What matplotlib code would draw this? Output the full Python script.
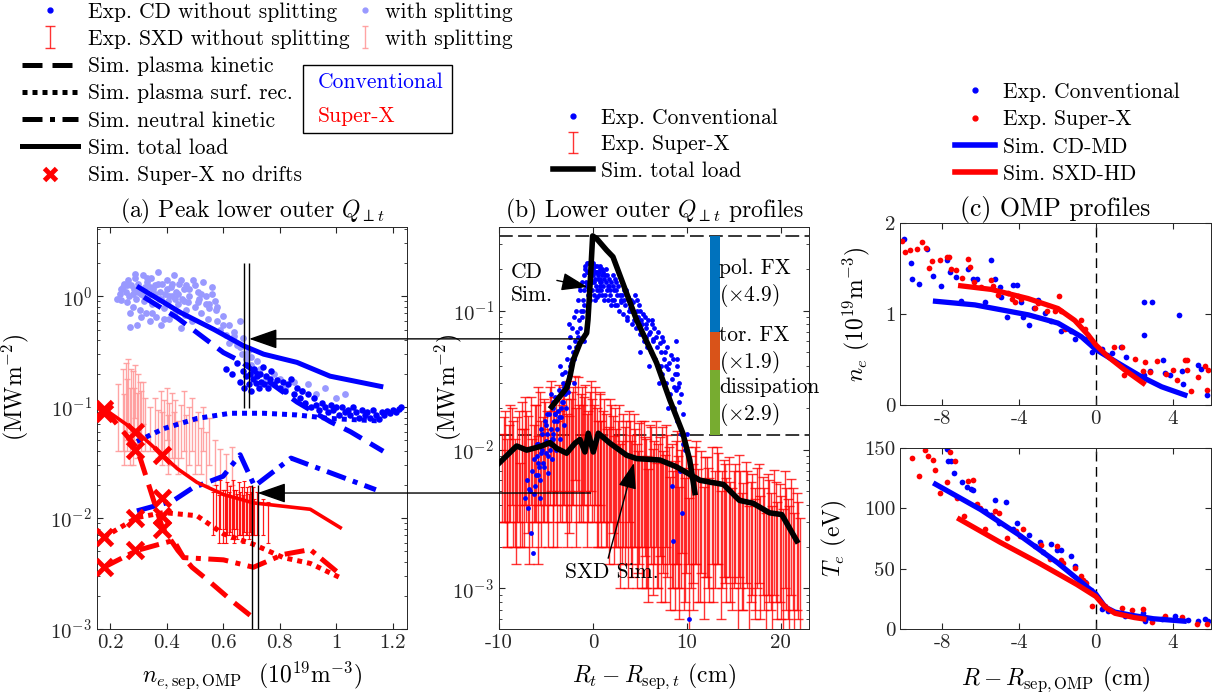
import matplotlib.pyplot as plt
from matplotlib.lines import Line2D
from matplotlib.patches import ConnectionPatch
import matplotlib.transforms as mtransforms

plt.rcParams['font.family'] = 'serif'
plt.rcParams['font.serif'] = ['cmr10']
plt.rcParams['mathtext.fontset'] = 'cm'
plt.rcParams['axes.unicode_minus'] = False
plt.rcParams['axes.formatter.use_mathtext'] = False
FS_TICK = 15
FS_LEG = 15.5
FS_LAB = 17
plt.rcParams['font.size'] = FS_LAB

# ---------------- (a) peak lower outer target load vs separatrix density
# experiment, conventional divertor (with / without splitting)
cd_split_n = [0.225, 0.235, 0.24, 0.245, 0.25, 0.255, 0.26, 0.262, 0.268, 0.27, 0.275, 0.28, 0.285, 0.29,
              0.292, 0.295, 0.30, 0.305, 0.31, 0.315, 0.32, 0.322, 0.328, 0.33, 0.335, 0.34, 0.345, 0.35,
              0.352, 0.36, 0.362, 0.37, 0.372, 0.378, 0.38, 0.385, 0.39, 0.395, 0.40, 0.405, 0.41, 0.415,
              0.42, 0.425, 0.43, 0.435, 0.44, 0.445, 0.45, 0.455, 0.46, 0.465, 0.47, 0.475, 0.48, 0.49,
              0.495, 0.50, 0.51, 0.515, 0.52, 0.53, 0.54, 0.545, 0.55, 0.56, 0.57, 0.575, 0.58, 0.59,
              0.60, 0.61, 0.62, 0.63, 0.64, 0.65, 0.66, 0.665, 0.67, 0.68, 0.69, 0.70, 0.71, 0.72, 0.75,
              0.78, 0.82, 0.85, 0.88, 0.90, 0.93, 0.96, 1.00, 1.03,
              0.24, 0.26, 0.28, 0.30, 0.32, 0.34, 0.36, 0.38, 0.40, 0.42,
              0.44, 0.46, 0.48, 0.50, 0.52, 0.54, 0.56, 0.27, 0.31, 0.35,
              0.39, 0.43, 0.47, 0.51, 0.55, 0.29, 0.33, 0.37, 0.41, 0.45,
              0.58, 0.60, 0.62, 0.64, 0.66, 0.68, 0.70, 0.73, 0.76, 0.80]
cd_split_q = [0.95, 1.05, 0.92, 1.2, 1.3, 1.1, 0.88, 1.4, 1.0, 0.53, 1.25, 0.8, 1.15, 1.45,
              0.95, 0.55, 1.3, 0.75, 1.05, 1.55, 0.9, 1.2, 0.7, 1.35, 1.0, 0.6, 1.45, 0.85,
              1.15, 1.25, 0.65, 1.65, 0.95, 1.1, 0.55, 1.3, 0.78, 1.05, 1.4, 0.9, 0.62, 1.2,
              1.0, 1.55, 0.72, 1.1, 0.85, 1.3, 0.52, 0.95, 1.15, 0.68, 1.25, 0.88, 1.0, 0.6,
              1.4, 0.8, 1.1, 0.95, 0.7, 1.35, 1.0, 0.62, 0.85, 1.2, 0.9, 0.75, 0.6, 0.5,
              0.66, 0.45, 0.55, 0.4, 0.48, 0.36, 0.6, 0.3, 0.42, 0.27, 0.33, 0.24, 0.2, 0.26, 0.18,
              0.2, 0.15, 0.17, 0.14, 0.16, 0.13, 0.15, 0.12, 0.13,
              1.15, 1.25, 1.05, 1.1, 1.0, 1.2, 1.05, 0.95, 1.15, 1.3,
              1.05, 0.9, 1.15, 1.25, 1.05, 0.85, 1.05, 0.7, 0.65, 0.7,
              0.62, 0.95, 0.75, 0.88, 0.78, 1.6, 1.45, 1.3, 1.0, 1.4,
              0.8, 0.55, 0.38, 0.44, 0.35, 0.3, 0.28, 0.22, 0.17, 0.18]
cd_n = [0.61, 0.63, 0.65, 0.66, 0.67, 0.675, 0.68, 0.685, 0.69, 0.695, 0.70, 0.705, 0.71, 0.715,
        0.72, 0.725, 0.73, 0.735, 0.74, 0.745, 0.75, 0.76, 0.765, 0.77, 0.78, 0.79, 0.80, 0.81,
        0.82, 0.83, 0.84, 0.85, 0.86, 0.87, 0.88, 0.89, 0.90, 0.91, 0.92, 0.93, 0.94, 0.95, 0.96,
        0.97, 0.98, 0.99, 1.00, 1.01, 1.02, 1.03, 1.04, 1.05, 1.06, 1.07, 1.08, 1.09, 1.10, 1.11,
        1.12, 1.13, 1.14, 1.15, 1.16, 1.17, 1.18, 1.19, 1.20, 1.21, 1.22, 1.23]
cd_q = [0.22, 0.20, 0.25, 0.17, 0.21, 0.15, 0.19, 0.24, 0.16, 0.20, 0.14, 0.18, 0.22, 0.165,
        0.19, 0.15, 0.20, 0.17, 0.23, 0.16, 0.19, 0.15, 0.18, 0.21, 0.16, 0.175, 0.15, 0.17,
        0.14, 0.16, 0.18, 0.13, 0.15, 0.12, 0.14, 0.11, 0.13, 0.10, 0.12, 0.105, 0.095, 0.11, 0.10,
        0.09, 0.105, 0.095, 0.10, 0.085, 0.10, 0.09, 0.095, 0.085, 0.10, 0.09, 0.08, 0.095, 0.085, 0.09,
        0.08, 0.095, 0.085, 0.078, 0.09, 0.085, 0.092, 0.088, 0.094, 0.09, 0.096, 0.10]

# experiment, Super-X divertor (with / without splitting), value and error
sxd_split_n = [0.23, 0.245, 0.25, 0.255, 0.26, 0.265, 0.27, 0.275, 0.28, 0.285, 0.29, 0.295, 0.30,
               0.305, 0.31, 0.315, 0.325, 0.34, 0.36, 0.37, 0.38, 0.385, 0.39, 0.40, 0.405, 0.41,
               0.42, 0.425, 0.43, 0.44, 0.45, 0.46, 0.47, 0.48, 0.49, 0.50, 0.51, 0.52, 0.53, 0.54,
               0.55, 0.57, 0.59, 0.61, 0.63]
sxd_split_q = [0.10, 0.13, 0.08, 0.15, 0.11, 0.17, 0.09, 0.14, 0.12, 0.10, 0.16, 0.085, 0.13,
               0.11, 0.09, 0.12, 0.08, 0.07, 0.08, 0.065, 0.09, 0.06, 0.075, 0.10, 0.055, 0.07,
               0.085, 0.06, 0.075, 0.05, 0.07, 0.09, 0.055, 0.065, 0.08, 0.05, 0.06, 0.045, 0.07, 0.04,
               0.055, 0.035, 0.03, 0.028, 0.032]
sxd_split_err = [0.06, 0.09, 0.05, 0.10, 0.07, 0.10, 0.06, 0.08, 0.09, 0.05, 0.08, 0.05, 0.07,
                 0.06, 0.05, 0.05, 0.04, 0.03, 0.04, 0.03, 0.05, 0.03, 0.04, 0.05, 0.03, 0.04,
                 0.05, 0.03, 0.04, 0.025, 0.035, 0.05, 0.03, 0.035, 0.04, 0.025, 0.03, 0.02, 0.03, 0.02,
                 0.025, 0.015, 0.012, 0.01, 0.012]
sxd_n = [0.565, 0.575, 0.585, 0.59, 0.60, 0.605, 0.61, 0.615, 0.62, 0.625, 0.63, 0.635, 0.64,
         0.645, 0.65, 0.655, 0.66, 0.665, 0.67, 0.675, 0.68, 0.685, 0.69, 0.695, 0.70, 0.705,
         0.71, 0.72, 0.74, 0.76]
sxd_q = [0.012, 0.014, 0.011, 0.015, 0.012, 0.013, 0.011, 0.014, 0.012, 0.0135, 0.011, 0.015, 0.012,
         0.013, 0.0115, 0.014, 0.012, 0.013, 0.011, 0.0145, 0.012, 0.013, 0.0115, 0.0135, 0.012, 0.013,
         0.011, 0.012, 0.011, 0.010]
sxd_err = [0.005, 0.006, 0.005, 0.007, 0.006, 0.005, 0.005, 0.007, 0.005, 0.006, 0.0045, 0.007, 0.006,
           0.005, 0.005, 0.007, 0.005, 0.006, 0.005, 0.007, 0.005, 0.006, 0.005, 0.006, 0.005, 0.006,
           0.004, 0.005, 0.004, 0.004]

# simulations: conventional divertor
cd_tot_n = [0.295, 0.45, 0.568, 0.672, 0.743, 0.861, 0.978, 1.166]
cd_tot_q = [1.23, 0.71, 0.50, 0.357, 0.30, 0.253, 0.19, 0.152]
cd_kin_n = [0.32, 0.437, 0.507, 0.601, 0.66, 0.861, 0.978, 1.05, 1.166]
cd_kin_q = [0.98, 0.64, 0.47, 0.31, 0.26, 0.111, 0.074, 0.06, 0.04]
cd_surf_n = [0.295, 0.39, 0.507, 0.625, 0.743, 0.86, 0.978, 1.155]
cd_surf_q = [0.049, 0.064, 0.079, 0.088, 0.088, 0.085, 0.079, 0.075]
cd_neut_n = [0.295, 0.421, 0.492, 0.60, 0.66, 0.711, 0.84, 1.14]
cd_neut_q = [0.0116, 0.0142, 0.0187, 0.0238, 0.0372, 0.0194, 0.0347, 0.018]
# simulations: Super-X divertor
sxd_tot_n = [0.178, 0.295, 0.39, 0.437, 0.507, 0.601, 0.707, 0.908, 1.014]
sxd_tot_q = [0.097, 0.060, 0.036, 0.028, 0.021, 0.0163, 0.0137, 0.012, 0.0082]
sxd_kin_n = [0.178, 0.295, 0.385, 0.44, 0.49, 0.55, 0.63, 0.70]
sxd_kin_q = [0.097, 0.043, 0.0082, 0.0051, 0.0036, 0.0027, 0.0018, 0.0013]
sxd_surf_n = [0.178, 0.295, 0.39, 0.507, 0.601, 0.707, 0.813, 0.908, 1.014]
sxd_surf_q = [0.0067, 0.0101, 0.0112, 0.0105, 0.0072, 0.0058, 0.0044, 0.0039, 0.0029]
sxd_neut_n = [0.178, 0.295, 0.425, 0.46, 0.601, 0.707, 0.813, 0.908, 1.014]
sxd_neut_q = [0.0036, 0.0051, 0.0063, 0.0044, 0.0042, 0.0036, 0.0047, 0.0052, 0.0031]
nodrift_n = [0.18, 0.18, 0.18, 0.18, 0.29, 0.29, 0.29, 0.29, 0.385, 0.385, 0.385, 0.385]
nodrift_q = [0.097, 0.088, 0.0067, 0.0036, 0.060, 0.041, 0.0101, 0.0051, 0.037, 0.0152, 0.0105, 0.0080]

# density window of the profiles shown in (b)
win_cd_n = [0.672, 0.692]
win_cd_q = [0.099, 1.99]
win_sxd_n = [0.702, 0.722]
win_sxd_q = [0.001, 0.02]

# ---------------- (b) target profiles
cdp_r = [-7.2, -7.0, -6.8, -6.6, -6.5, -6.4, -6.3, -6.2, -6.0, -5.9,
         -5.8, -5.7, -5.6, -5.5, -5.4, -5.3, -5.2, -5.1, -5.0, -4.9,
         -4.8, -4.7, -4.6, -4.5, -4.5, -4.4, -4.3, -4.2, -4.1, -4.0,
         -3.9, -3.8, -3.7, -3.6, -3.5, -3.5, -3.4, -3.3, -3.2, -3.1,
         -3.0, -2.9, -2.8, -2.7, -2.6, -2.5, -2.5, -2.4, -2.3, -2.2,
         -2.1, -2.0, -2.0, -1.9, -1.8, -1.7, -1.6, -1.5, -1.5, -1.4,
         -1.3, -1.2, -1.1, -1.0, -1.0, -0.9, -0.8, -0.7, -0.6, -0.5,
         -0.5, -0.4, -0.3, -0.2, -0.1, 0.0, 0.1, 0.1, 0.2, 0.3,
         0.3, 0.4, 0.5, 0.6, 0.7, 0.8, 0.8, 0.9, 1.0, 1.1,
         1.2, 1.2, 1.3, 1.4, 1.5, 1.5, 1.6, 1.7, 1.8, 1.9,
         2.0, 2.2, 2.4, 2.5, 2.6, 2.8, 3.0, 3.2, 3.4, 3.5,
         3.6, 3.8, 4.0, 4.2, 4.4, 4.5, 4.6, 4.8, 5.0, 5.0,
         5.2, 5.4, 5.5, 5.6, 5.8, 6.0, 6.0, 6.2, 6.4, 6.5,
         6.6, 6.8, 7.0, 7.0, 7.2, 7.4, 7.5, 7.6, 7.8, 8.0,
         8.0, 8.2, 8.4, 8.4, 8.5, 8.6, 8.8, 8.8, 9.0, 9.0,
         9.1, 9.2, 9.3, 9.4, 9.5, 9.6, 9.8, 10.0, 10.2, 8.5,
         -0.8, -0.6, -0.4, -0.2, 0.0, 0.2, 0.4, 0.6, 0.8, 1.0,
         -0.7, -0.3, 0.1, 0.5, 0.9, 1.3, 1.7, 2.1, 2.5, 2.9,
         -0.9, -0.5, 0.0, 0.4, 0.7, 1.1, 1.4, 1.8, 2.3, 2.7,
         3.1, 3.3, 3.7, 3.9, 4.1, 4.3, 4.7, 4.9, 5.1, 5.3,
         5.7, 5.9, 6.1, 6.3, 6.7, 6.9, 7.1, 7.3, 7.7, 7.9,
         8.1, 8.3, 8.7, 8.9, 9.2, 9.4, 2.1, 3.3, 4.7, 6.3,
         -1.2, -1.4, -1.6, -1.8, -2.2, -2.4, -2.6, -2.8, -3.2, -3.4,
         -3.6, -3.8, -4.2, -4.4, -4.6, -4.8, -5.2, -5.4, -5.6, -5.8,
         -6.1, -6.3, -6.7, -6.9, -5.0, -4.0, -3.0, -2.0, -1.1, -0.3,
         1.6, 2.2, 2.6, 3.0, 3.6, 4.4, 5.0, 5.6, 6.4, 7.2,
         7.8, 8.6, 9.0, 9.6, 0.2, 0.6, 1.0, -0.1, 0.4, 1.9,
         -5.5, -4.9, -4.3, -3.7, -3.1, -2.7, -6.0, -5.0, -4.0, -3.3]
cdp_q = [0.0045, 0.006, 0.0052, 0.0025, 0.007, 0.0018, 0.0085, 0.0055, 0.009, 0.0065,
         0.011, 0.0075, 0.0045, 0.0095, 0.013, 0.008, 0.011, 0.016, 0.0095, 0.013,
         0.0068, 0.018, 0.011, 0.014, 0.025, 0.0085, 0.02, 0.012, 0.016, 0.024,
         0.010, 0.014, 0.019, 0.027, 0.012, 0.04, 0.017, 0.022, 0.030, 0.015,
         0.036, 0.020, 0.045, 0.026, 0.055, 0.034, 0.08, 0.065, 0.042, 0.075,
         0.050, 0.090, 0.03, 0.060, 0.10, 0.070, 0.12, 0.085, 0.15, 0.14,
         0.10, 0.16, 0.12, 0.18, 0.06, 0.14, 0.20, 0.16, 0.22, 0.15,
         0.19, 0.19, 0.17, 0.20, 0.14, 0.18, 0.16, 0.13, 0.21, 0.15,
         0.19, 0.19, 0.17, 0.13, 0.20, 0.16, 0.21, 0.14, 0.18, 0.15,
         0.17, 0.12, 0.13, 0.16, 0.14, 0.18, 0.12, 0.15, 0.13, 0.16,
         0.12, 0.14, 0.11, 0.16, 0.13, 0.10, 0.12, 0.095, 0.11, 0.14,
         0.085, 0.10, 0.12, 0.08, 0.095, 0.13, 0.075, 0.09, 0.068, 0.05,
         0.08, 0.06, 0.09, 0.075, 0.055, 0.068, 0.04, 0.05, 0.06, 0.075,
         0.045, 0.055, 0.04, 0.03, 0.05, 0.035, 0.06, 0.045, 0.03, 0.038,
         0.02, 0.025, 0.032, 0.0055, 0.045, 0.02, 0.027, 0.06, 0.016, 0.035,
         0.028, 0.022, 0.007, 0.013, 0.0035, 0.018, 0.01, 0.013, 0.0006, 0.0022,
         0.21, 0.19, 0.22, 0.18, 0.20, 0.17, 0.21, 0.19, 0.17, 0.20,
         0.15, 0.16, 0.19, 0.18, 0.16, 0.18, 0.17, 0.15, 0.14, 0.13,
         0.11, 0.13, 0.22, 0.14, 0.15, 0.19, 0.2, 0.14, 0.17, 0.15,
         0.13, 0.12, 0.125, 0.105, 0.1, 0.115, 0.1, 0.11, 0.085, 0.095,
         0.08, 0.085, 0.07, 0.08, 0.065, 0.07, 0.058, 0.065, 0.05, 0.055,
         0.042, 0.048, 0.035, 0.04, 0.03, 0.025, 0.18, 0.14, 0.12, 0.085,
         0.09, 0.075, 0.065, 0.055, 0.045, 0.04, 0.033, 0.028, 0.022, 0.02,
         0.017, 0.016, 0.013, 0.012, 0.01, 0.009, 0.0075, 0.01, 0.006, 0.008,
         0.0065, 0.0048, 0.005, 0.0038, 0.0115, 0.018, 0.025, 0.045, 0.1, 0.12,
         0.15, 0.12, 0.11, 0.115, 0.09, 0.085, 0.1, 0.065, 0.062, 0.04,
         0.04, 0.028, 0.045, 0.011, 0.12, 0.14, 0.13, 0.16, 0.125, 0.11,
         0.014, 0.018, 0.022, 0.024, 0.028, 0.03, 0.011, 0.015, 0.018, 0.035]
sxdp_r = [-9.7, -9.4, -9.1, -8.9, -8.6, -8.3, -8.1, -7.8, -7.6, -7.3, -7.1, -6.8, -6.6, -6.3, -6.1,
          -5.8, -5.6, -5.3, -5.1, -4.8, -4.6, -4.3, -4.1, -3.8, -3.6, -3.3, -3.1, -2.8, -2.6, -2.3,
          -2.1, -1.8, -1.6, -1.3, -1.1, -0.8, -0.6, -0.3, -0.1, 0.2, 0.4, 0.7, 0.9, 1.2, 1.4, 1.7,
          1.9, 2.2, 2.4, 2.7, 2.9, 3.2, 3.4, 3.7, 3.9, 4.2, 4.4, 4.7, 4.9, 5.2, 5.4, 5.7, 5.9, 6.2,
          6.4, 6.7, 6.9, 7.2, 7.4, 7.7, 7.9, 8.2, 8.4, 8.7, 8.9, 9.2, 9.4, 9.7, 9.9, 10.2, 10.4,
          10.7, 10.9, 11.2, 11.5, 11.8, 12.1, 12.4, 12.7, 13.0, 13.3, 13.6, 13.9, 14.2, 14.5, 14.8,
          15.1, 15.4, 15.7, 16.0, 16.3, 16.6, 16.9, 17.2, 17.5, 17.8, 18.1, 18.4, 18.7, 19.0, 19.3,
          19.6, 19.9, 20.2, 20.5, 20.8, 21.1, 21.4, 21.7, 22.0,
          -9.5, -9.2, -8.8, -8.5, -8.2, -7.9, -7.5, -7.2, -6.9, -6.5,
          -6.2, -5.9, -5.5, -5.2, -4.9, -4.5, -4.2, -3.9, -3.5, -3.2,
          -2.9, -2.5, -2.2, -1.9, -1.5, -1.2, -0.9, -0.5, -0.2, 0.1,
          0.5, 0.8, 1.1, 1.5, 1.8, 2.1, 2.5, 2.8, 3.1, 3.5,
          3.8, 4.1, 4.5, 4.8, 5.1, 5.5, 5.8, 6.1, 6.5, 6.8,
          7.1, 7.5, 7.8, 8.1, 8.5, 8.8, 9.1, 9.5, 9.8, 10.1,
          10.6, 11.0, 11.4, 11.9, 12.3, 12.8, 13.2, 13.7, 14.1, 14.6,
          15.0, 15.5, 15.9, 16.4, 16.8, 17.3, 17.7, 18.2, 18.6, 19.1,
          19.5, 20.0, 20.4, 20.9, 21.3, 21.8]
sxdp_q = [0.008, 0.011, 0.006, 0.009, 0.012, 0.007, 0.010, 0.005, 0.013, 0.008, 0.011, 0.006, 0.014,
          0.009, 0.012, 0.007, 0.015, 0.010, 0.013, 0.008, 0.016, 0.011, 0.014, 0.009, 0.017, 0.012,
          0.015, 0.010, 0.018, 0.013, 0.016, 0.011, 0.019, 0.014, 0.012, 0.017, 0.010, 0.015, 0.013,
          0.016, 0.011, 0.014, 0.009, 0.013, 0.010, 0.008, 0.012, 0.007, 0.011, 0.009, 0.006, 0.010,
          0.008, 0.005, 0.009, 0.007, 0.010, 0.006, 0.0085, 0.005, 0.009, 0.0065, 0.004, 0.008,
          0.0055, 0.009, 0.006, 0.0045, 0.008, 0.005, 0.007, 0.0035, 0.006, 0.0045, 0.0075, 0.003,
          0.0055, 0.004, 0.0065, 0.0025, 0.005, 0.0035, 0.006, 0.004, 0.0055, 0.003, 0.005, 0.0035,
          0.006, 0.004, 0.0055, 0.0028, 0.0048, 0.0035, 0.005, 0.003, 0.0045, 0.0025, 0.004, 0.0032,
          0.0046, 0.0022, 0.0038, 0.003, 0.0042, 0.0026, 0.0036, 0.002, 0.0034, 0.0028, 0.004,
          0.0024, 0.0032, 0.0021, 0.003, 0.0025, 0.0035, 0.002, 0.0028, 0.0018,
          0.010, 0.007, 0.012, 0.009, 0.006, 0.011, 0.008, 0.014, 0.010, 0.007,
          0.012, 0.016, 0.009, 0.013, 0.011, 0.018, 0.008, 0.014, 0.011, 0.016,
          0.013, 0.010, 0.015, 0.020, 0.012, 0.016, 0.014, 0.011, 0.018, 0.012,
          0.009, 0.015, 0.011, 0.008, 0.013, 0.010, 0.008, 0.012, 0.0065, 0.009,
          0.011, 0.0065, 0.008, 0.0055, 0.009, 0.007, 0.005, 0.0085, 0.0065, 0.0045,
          0.007, 0.0055, 0.0085, 0.006, 0.004, 0.0065, 0.005, 0.0075, 0.0035, 0.006,
          0.0045, 0.0065, 0.0035, 0.005, 0.0042, 0.0032, 0.006, 0.004, 0.0045, 0.0033,
          0.004, 0.0052, 0.0028, 0.004, 0.0033, 0.0025, 0.0045, 0.003, 0.0038, 0.0022,
          0.0033, 0.0026, 0.004, 0.0022, 0.003, 0.0024]
sxdp_err = [0.005, 0.008, 0.004, 0.006, 0.008, 0.005, 0.007, 0.003, 0.009, 0.006, 0.008, 0.0045,
            0.010, 0.006, 0.009, 0.0055, 0.011, 0.007, 0.009, 0.006, 0.012, 0.008, 0.010, 0.007,
            0.012, 0.009, 0.011, 0.008, 0.013, 0.010, 0.012, 0.009, 0.014, 0.011, 0.009, 0.012,
            0.008, 0.011, 0.010, 0.012, 0.009, 0.011, 0.007, 0.010, 0.008, 0.0065, 0.009, 0.0055,
            0.009, 0.007, 0.005, 0.008, 0.0065, 0.004, 0.007, 0.0058, 0.008, 0.005, 0.007, 0.004,
            0.007, 0.0055, 0.0032, 0.0065, 0.0046, 0.007, 0.005, 0.0037, 0.0065, 0.0042, 0.0058,
            0.0028, 0.005, 0.0038, 0.006, 0.0024, 0.0045, 0.0033, 0.0052, 0.002, 0.004, 0.0028,
            0.0045, 0.0032, 0.0042, 0.0024, 0.0038, 0.0027, 0.0045, 0.003, 0.004, 0.0022, 0.0036,
            0.0027, 0.0038, 0.0023, 0.0034, 0.002, 0.003, 0.0025, 0.0035, 0.0017, 0.0029, 0.0023,
            0.0032, 0.002, 0.0027, 0.0015, 0.0026, 0.0021, 0.0031, 0.0018, 0.0024, 0.0016, 0.0023,
            0.0019, 0.0026, 0.0015, 0.0021, 0.0014,
            0.007, 0.005, 0.009, 0.007, 0.0045, 0.008, 0.006, 0.010, 0.0075, 0.005,
            0.009, 0.012, 0.007, 0.010, 0.008, 0.013, 0.006, 0.010, 0.008, 0.012,
            0.010, 0.0075, 0.011, 0.014, 0.009, 0.012, 0.010, 0.008, 0.013, 0.009,
            0.007, 0.011, 0.008, 0.006, 0.010, 0.0075, 0.006, 0.009, 0.005, 0.007,
            0.008, 0.005, 0.006, 0.0042, 0.007, 0.0053, 0.004, 0.0065, 0.005, 0.0035,
            0.0053, 0.0042, 0.0065, 0.0045, 0.003, 0.005, 0.004, 0.0057, 0.0027, 0.0045,
            0.0034, 0.005, 0.0027, 0.0038, 0.0032, 0.0024, 0.0045, 0.003, 0.0034, 0.0025,
            0.003, 0.004, 0.0021, 0.003, 0.0025, 0.0019, 0.0034, 0.0023, 0.0029, 0.0017,
            0.0025, 0.002, 0.003, 0.0017, 0.0023, 0.0018]
cd_sim_r = [-4.39, -2.80, -2.45, -2.10, -1.38, -0.67, -0.53, -0.32, -0.03, 0.39, 1.46, 2.13, 4.65,
            6.78, 8.19, 9.57, 10.3, 10.85]
cd_sim_q = [0.0203, 0.0277, 0.0334, 0.044, 0.0584, 0.069, 0.0855, 0.148, 0.345, 0.33, 0.272, 0.244,
            0.0855, 0.042, 0.0227, 0.0131, 0.0084, 0.0049]
sxd_sim_r = [-9.97, -8.12, -7.05, -5.64, -4.57, -3.86, -2.80, -1.91, -1.38, -0.85, -0.5, 0.04, 0.57,
             1.81, 3.58, 4.65, 7.13, 8.9, 11.4, 13.9, 15.6, 17.05, 18.8, 20.1, 21.7]
sxd_sim_q = [0.0080, 0.0106, 0.0099, 0.0105, 0.0112, 0.0102, 0.0094, 0.0111, 0.0118, 0.0096, 0.0131,
             0.0096, 0.0131, 0.0111, 0.0091, 0.0086, 0.0084, 0.0075, 0.0060, 0.0056, 0.0043, 0.0041,
             0.0035, 0.0034, 0.0022]
# peak-load reduction split into its contributions
peak_sxd = 0.0128
gain_labels = ['dissipation', 'tor. FX', 'pol. FX']
gain_factors = [2.9, 1.9, 4.9]
gain_colors = ['#77AC30', '#D95319', '#0072BD']

# ---------------- (c) outer midplane profiles
ne_cd_r = [-9.97, -9.65, -9.57, -9.23, -8.78, -8.49, -8.09, -7.77, -7.62, -7.27, -7.0, -6.66, -6.4,
           -6.17, -5.79, -5.44, -5.27, -5.0, -4.96, -4.61, -4.31, -4.09, -3.88, -3.79, -3.48, -3.22,
           -3.01, -2.66, -2.35, -1.79, -1.27, -1.1, -0.57, -0.19, 0.3, 0.56, 0.85, 1.3, 1.55, 2.52,
           2.52, 2.94, 2.49, 2.82, 3.51, 3.6, 3.86, 4.33, 4.5, 4.56, 5.30, 5.48, 5.77]
ne_cd = [1.82, 1.56, 1.38, 1.33, 1.71, 1.42, 1.31, 1.59, 1.46, 1.41, 1.14, 1.49, 1.38, 1.38, 1.13,
         1.59, 1.38, 1.30, 1.19, 0.97, 1.32, 1.32, 1.13, 0.97, 0.88, 1.07, 1.15, 1.01, 0.92, 0.81,
         0.81, 0.73, 0.73, 0.58, 0.61, 0.55, 0.57, 0.64, 0.53, 1.13, 0.77, 1.13, 0.33, 0.37, 0.49,
         0.35, 0.33, 0.99, 0.37, 0.23, 0.44, 0.40, 0.11]
ne_sxd_r = [-10.09, -9.93, -9.7, -9.3, -9.03, -8.83, -8.71, -8.54, -8.12, -7.77, -7.67, -7.53, -7.3,
            -6.96, -6.66, -6.57, -6.35, -5.97, -5.48, -5.36, -5.1, -4.57, -4.37, -4.23, -4.05, -3.88,
            -3.15, -3.01, -2.52, -2.14, -1.93, -1.79, -1.58, -0.78, -0.57, 0.96, 1.34, 1.48, 2.03,
            2.47, 2.56, 2.82, 3.17, 3.63, 4.03, 4.21, 4.64, 4.73, 4.73, 4.96, 5.34, 5.69, 5.77, 5.83]
ne_sxd = [1.80, 1.68, 1.70, 1.71, 1.79, 1.72, 1.50, 1.58, 1.59, 1.63, 1.63, 1.49, 1.48, 1.40, 1.60,
          1.52, 1.35, 1.30, 1.37, 1.31, 1.21, 1.23, 1.17, 1.13, 1.20, 1.16, 1.07, 1.12, 1.03, 1.03,
          1.20, 1.03, 0.83, 0.93, 0.84, 0.64, 0.64, 0.33, 0.51, 0.37, 0.47, 0.36, 0.48, 0.34, 0.39,
          0.28, 0.49, 0.49, 0.39, 0.15, 0.31, 0.43, 0.17, 0.39]
te_cd_r = [-7.77, -7.7, -7.55, -7.37, -6.97, -6.7, -6.52, -6.4, -5.79, -5.27, -5.48, -5.04, -4.66,
           -4.31, -4.09, -3.5, -3.18, -2.92, -2.75, -2.35, -2.0, -1.79, -1.27, -1.1, -0.75, -0.57,
           -0.23, 0.3, 0.64, 1.51, 2.47, 2.56, 3.43, 4.12, 4.82, 5.69, 5.86, 5.34]
te_cd = [149, 139, 139, 129, 121.5, 118, 116, 115.5, 98, 106.6, 94.8, 87.8, 105, 82.9, 87.8, 78.2,
         68.5, 71.8, 63.5, 70.4, 65.7, 65.2, 60.2, 52.5, 41.4, 38.7, 32, 16.6, 14.6, 11, 13.3, 6.4,
         8.3, 10.5, 7.7, 8.3, 6.4, 6.9]
te_sxd_r = [-9.6, -9.23, -8.92, -8.75, -8.49, -8.4, -8.12, -7.76, -7.57, -7.32, -7.22, -6.87, -6.66,
            -6.4, -6.17, -6.05, -5.79, -5.41, -5.27, -5.06, -4.61, -4.14, -3.79, -3.97, -2.83, -2.4,
            -2.0, -1.79, -1.7, -1.1, -0.78, -0.66, -0.49, -0.19, 0.47, 1.34, 1.86, 2.47, 2.91, 3.6,
            4.47, 5.25, 5.77]
te_sxd = [142, 126.5, 148.6, 143.6, 140, 132, 112.7, 122, 146.7, 139, 108.6, 93.4, 123, 123.8, 104,
          100, 83, 93.4, 98, 96, 75.4, 81, 82.9, 76.8, 69.9, 58, 69, 57.5, 54.7, 50.5, 43.6, 40.3,
          38.1, 18.8, 19.3, 17.4, 15.5, 16.6, 5.5, 10.5, 9.9, 4.4, 4.4]
sim_cd_r = [-8.35, -6.3, -3.5, -1.97, -0.75, 0.0, 1.17, 2.38, 3.43, 4.64]
sim_cd_ne = [1.14, 1.10, 0.99, 0.90, 0.75, 0.61, 0.46, 0.31, 0.20, 0.11]
sim_sxd_r = [-7.04, -5.44, -3.53, -1.97, -1.1, -0.4, 0.0, 0.64, 1.51, 2.47]
sim_sxd_ne = [1.31, 1.27, 1.17, 1.06, 0.93, 0.77, 0.66, 0.53, 0.385, 0.24]
sim_cd_te_r = [-8.35, -6.0, -4.0, -2.0, -1.0, 0.0, 0.5, 1.0, 2.0, 3.0, 4.6]
sim_cd_te = [120, 99, 78, 55, 42, 29, 18, 14, 11, 8.5, 6.5]
sim_sxd_te_r = [-7.1, -5.0, -3.0, -1.0, 0.0, 0.5, 1.0, 2.0, 2.5]
sim_sxd_te = [91, 72, 55, 37, 27, 18, 13, 9.5, 8.3]

BLUE = (0, 0, 1)
RED = (1, 0, 0)
LIGHTBLUE = '#9999ff'
PINK = '#ff9a9a'
GREY = '#262626'
KIN = (4, 2)
SURF = (1, 1)
NEUT = (4, 1.5, 1, 1.5)

W, H = 1221, 698
fig = plt.figure(figsize=(W / 100, H / 100), dpi=100)


def px_axes(left, top, right, bottom):
    return fig.add_axes([left / W, 1 - bottom / H, (right - left) / W, (bottom - top) / H])


def style(ax):
    ax.tick_params(which='both', direction='in', top=True, right=True, colors=GREY,
                   labelcolor=GREY, labelsize=FS_TICK)
    ax.tick_params(which='major', length=4.5)
    ax.tick_params(which='minor', length=2.5)
    for s in ax.spines.values():
        s.set_color(GREY)
        s.set_linewidth(0.7)


ax_a = px_axes(97, 227, 407, 629)
ax_b = px_axes(499, 227, 809, 629)
ax_c1 = px_axes(900, 223, 1211, 405)
ax_c2 = px_axes(900, 448, 1211, 629)

# ---- panel (a)
ax = ax_a
eb_split = ax.errorbar(sxd_split_n, sxd_split_q, yerr=sxd_split_err, fmt='none', ecolor=PINK,
                       elinewidth=1, capsize=2, capthick=1, alpha=0.9)
eb_nosplit = ax.errorbar(sxd_n, sxd_q, yerr=sxd_err, fmt='none', ecolor=RED,
                         elinewidth=0.9, capsize=1.5, capthick=0.8, alpha=0.9)
ax.scatter(cd_split_n, cd_split_q, s=24, color=LIGHTBLUE, linewidths=0, zorder=2)
ax.scatter(cd_n, cd_q, s=22, color=BLUE, linewidths=0, zorder=2)
ax.plot(cd_tot_n, cd_tot_q, color=BLUE, lw=3.6, solid_capstyle='butt', zorder=3)
ax.plot(cd_kin_n, cd_kin_q, color=BLUE, lw=3.6, dashes=KIN, zorder=3)
ax.plot(cd_surf_n, cd_surf_q, color=BLUE, lw=3.6, dashes=SURF, zorder=3)
ax.plot(cd_neut_n, cd_neut_q, color=BLUE, lw=3.6, dashes=NEUT, zorder=3)
ax.plot(sxd_tot_n, sxd_tot_q, color=RED, lw=2.6, zorder=3)
ax.plot(sxd_kin_n, sxd_kin_q, color=RED, lw=3.6, dashes=KIN, zorder=3)
ax.plot(sxd_surf_n, sxd_surf_q, color=RED, lw=3.6, dashes=SURF, zorder=3)
ax.plot(sxd_neut_n, sxd_neut_q, color=RED, lw=3.6, dashes=NEUT, zorder=3)
ax.plot(nodrift_n, nodrift_q, ls='none', marker='x', ms=11, mew=3.5, color=RED, zorder=4)
ax.vlines(win_cd_n, win_cd_q[0], win_cd_q[1], color='black', lw=1, zorder=5)
ax.vlines(win_sxd_n, win_sxd_q[0], win_sxd_q[1], color='black', lw=1, zorder=5)
ax.set_yscale('log')
ax.set_xlim(0.154, 1.25)
ax.set_ylim(1e-3, 4.2)
ax.set_xticks([0.2, 0.4, 0.6, 0.8, 1.0, 1.2])
ax.set_xticklabels(['0.2', '0.4', '0.6', '0.8', '1', '1.2'])
ax.set_xlabel(r'$n_{e,\mathrm{sep,OMP}}$  (10$^{19}$m$^{-3}$)', labelpad=5)
ax.set_ylabel(r'(MWm$^{-2}$)')
ax.yaxis.set_label_coords(-0.213, 0.6)
ax.set_title(r'(a) Peak lower outer $Q_{\perp t}$', fontsize=FS_LAB, pad=7)
style(ax)

# ---- panel (b)
ax = ax_b
eb_b = ax.errorbar(sxdp_r, sxdp_q, yerr=sxdp_err, fmt='none', ecolor=(1, 0, 0, 0.8),
                   elinewidth=1, capsize=3.5, capthick=1)
ax.scatter(cdp_r, cdp_q, s=12, color=BLUE, linewidths=0, zorder=2)
ax.plot(cd_sim_r, cd_sim_q, color='black', lw=4, zorder=3)
ax.plot(sxd_sim_r, sxd_sim_q, color='black', lw=4, zorder=3)
peak_cd = peak_sxd
for g in gain_factors:
    peak_cd *= g
ax.axhline(peak_cd, color='black', lw=1.1, dashes=(9, 3.5), zorder=1)
ax.axhline(peak_sxd, color='black', lw=1.1, dashes=(9, 3.5), zorder=1)
lo = peak_sxd
for lab, g, c in zip(gain_labels, gain_factors, gain_colors):
    hi = lo * g
    ax.bar(13.0, hi - lo, bottom=lo, width=1.05, color=c, zorder=4)
    ax.text(13.4, (lo * hi) ** 0.5, lab + '\n' + r'($\times$' + f'{g}' + ')', ha='left',
            va='center', fontsize=15.4, linespacing=1.2, zorder=5)
    lo = hi
arrow = dict(arrowstyle='-|>,head_length=0.8,head_width=0.28', color='black', lw=1,
             mutation_scale=20, shrinkA=1, shrinkB=0)
ax.annotate('CD\nSim.', xy=(-0.6, 0.148), xytext=(-8.75, 0.156), ha='left', va='center',
            fontsize=FS_LEG, linespacing=1.25, arrowprops=dict(arrow, relpos=(1.0, 0.6)), zorder=6)
ax.annotate('SXD Sim.', xy=(4.36, 0.008), xytext=(2.0, 0.00131), ha='center', va='center',
            fontsize=FS_LEG, arrowprops=dict(arrow, relpos=(0.45, 1.0)), zorder=6)
ax.set_yscale('log')
ax.set_xlim(-10, 23)
ax.set_ylim(5.1e-4, 0.40)
ax.set_xticks([-10, 0, 10, 20])
ax.set_xlabel(r'$R_t - R_{\mathrm{sep},t}$ (cm)', labelpad=7)
ax.set_ylabel(r'(MWm$^{-2}$)')
ax.yaxis.set_label_coords(-0.113, 0.6)
ax.set_title(r'(b) Lower outer $Q_{\perp t}$ profiles', fontsize=FS_LAB, pad=7)
style(ax)

# ---- panel (c)
for ax in (ax_c1, ax_c2):
    ax.axvline(0, color='black', lw=1, dashes=(7, 4), zorder=1)
    ax.set_xlim(-10.2, 6)
    ax.set_xticks([-8, -4, 0, 4])
ax = ax_c1
ax.scatter(ne_cd_r, ne_cd, s=17, color=BLUE, linewidths=0, zorder=2)
ax.scatter(ne_sxd_r, ne_sxd, s=17, color=RED, linewidths=0, zorder=2)
ax.plot(sim_cd_r, sim_cd_ne, color=BLUE, lw=3.8, zorder=3)
ax.plot(sim_sxd_r, sim_sxd_ne, color=RED, lw=3.8, zorder=3)
ax.set_ylim(0, 2)
ax.set_yticks([0, 1, 2])
ax.set_ylabel(r'$n_e$ (10$^{19}$m$^{-3}$)')
ax.yaxis.set_label_coords(-0.09, 0.5)
ax.set_title('(c) OMP profiles', fontsize=18.5, pad=5)
style(ax)
ax = ax_c2
ax.scatter(te_cd_r, te_cd, s=17, color=BLUE, linewidths=0, zorder=2)
ax.scatter(te_sxd_r, te_sxd, s=17, color=RED, linewidths=0, zorder=2)
ax.plot(sim_cd_te_r, sim_cd_te, color=BLUE, lw=3.8, zorder=3)
ax.plot(sim_sxd_te_r, sim_sxd_te, color=RED, lw=3.8, zorder=3)
ax.set_ylim(0, 150)
ax.set_yticks([0, 50, 100, 150])
ax.set_ylabel(r'$T_e$ (eV)')
ax.yaxis.set_label_coords(-0.165, 0.5)
ax.set_xlabel(r'$R - R_{\mathrm{sep,OMP}}$ (cm)', labelpad=9)
style(ax)

# ---- arrows from the profiles in (b) to their points in (a)
ab = mtransforms.blended_transform_factory(ax_a.transData, ax_b.transData)
for r_tail, q_level, n_head in [(-1.5, 0.0626, win_cd_n[1]), (-0.25, 0.00486, win_sxd_n[1])]:
    con = ConnectionPatch(xyA=(r_tail, q_level), coordsA=ax_b.transData,
                          xyB=(n_head, q_level), coordsB=ab,
                          arrowstyle='-|>,head_length=0.8,head_width=0.28', mutation_scale=22,
                          color='black', lw=1, shrinkA=0, shrinkB=0, zorder=10)
    fig.add_artist(con)

# ---- legends
dot = dict(ls='none', marker='.', ms=7)
line = dict(color='black', lw=3.6)
h_left = [Line2D([], [], color=BLUE, **dot), eb_b,
          Line2D([], [], dashes=KIN, **line), Line2D([], [], dashes=SURF, **line),
          Line2D([], [], dashes=NEUT, **line), Line2D([], [], **line),
          Line2D([], [], ls='none', marker='x', ms=9, mew=3.5, color=RED)]
l_left = ['Exp. CD without splitting', 'Exp. SXD without splitting', 'Sim. plasma kinetic',
          'Sim. plasma surf. rec.', 'Sim. neutral kinetic', 'Sim. total load', 'Sim. Super-X no drifts']
leg_kw = dict(loc='upper left', frameon=False, borderpad=0, borderaxespad=0, fontsize=FS_LEG)
fig.legend(h_left, l_left, bbox_to_anchor=(22 / W, 1 - 2 / H), handlelength=2.6,
           handletextpad=0.47, labelspacing=0.36, **leg_kw)
fig.legend([Line2D([], [], color=LIGHTBLUE, **dot), eb_split], ['with splitting', 'with splitting'],
           bbox_to_anchor=(355 / W, 1 - 2 / H), handlelength=0.9, handletextpad=0.48,
           labelspacing=0.36, **leg_kw)
fig.legend([Line2D([], [], ls='none')] * 2, ['Conventional', 'Super-X'],
           labelcolor=[BLUE, RED], loc='upper left', bbox_to_anchor=(303 / W, 1 - 65 / H),
           handlelength=0, handletextpad=0.34, borderpad=0.36, labelspacing=0.64, fontsize=FS_LEG,
           frameon=True, fancybox=False, edgecolor='black', framealpha=1, borderaxespad=0)
fig.legend([Line2D([], [], color=BLUE, **dot), eb_b, Line2D([], [], color='black', lw=4)],
           ['Exp. Conventional', 'Exp. Super-X', 'Sim. total load'],
           bbox_to_anchor=(553 / W, 1 - 108 / H), handlelength=1.86, handletextpad=0.38,
           labelspacing=0.33, **leg_kw)
fig.legend([Line2D([], [], color=BLUE, **dot), Line2D([], [], color=RED, **dot),
            Line2D([], [], color=BLUE, lw=4), Line2D([], [], color=RED, lw=4)],
           ['Exp. Conventional', 'Exp. Super-X', 'Sim. CD-MD', 'Sim. SXD-HD'],
           bbox_to_anchor=(955 / W, 1 - 82.5 / H), handlelength=1.86, handletextpad=0.38,
           labelspacing=0.36, **leg_kw)

fig.savefig('out.png', dpi=100)
